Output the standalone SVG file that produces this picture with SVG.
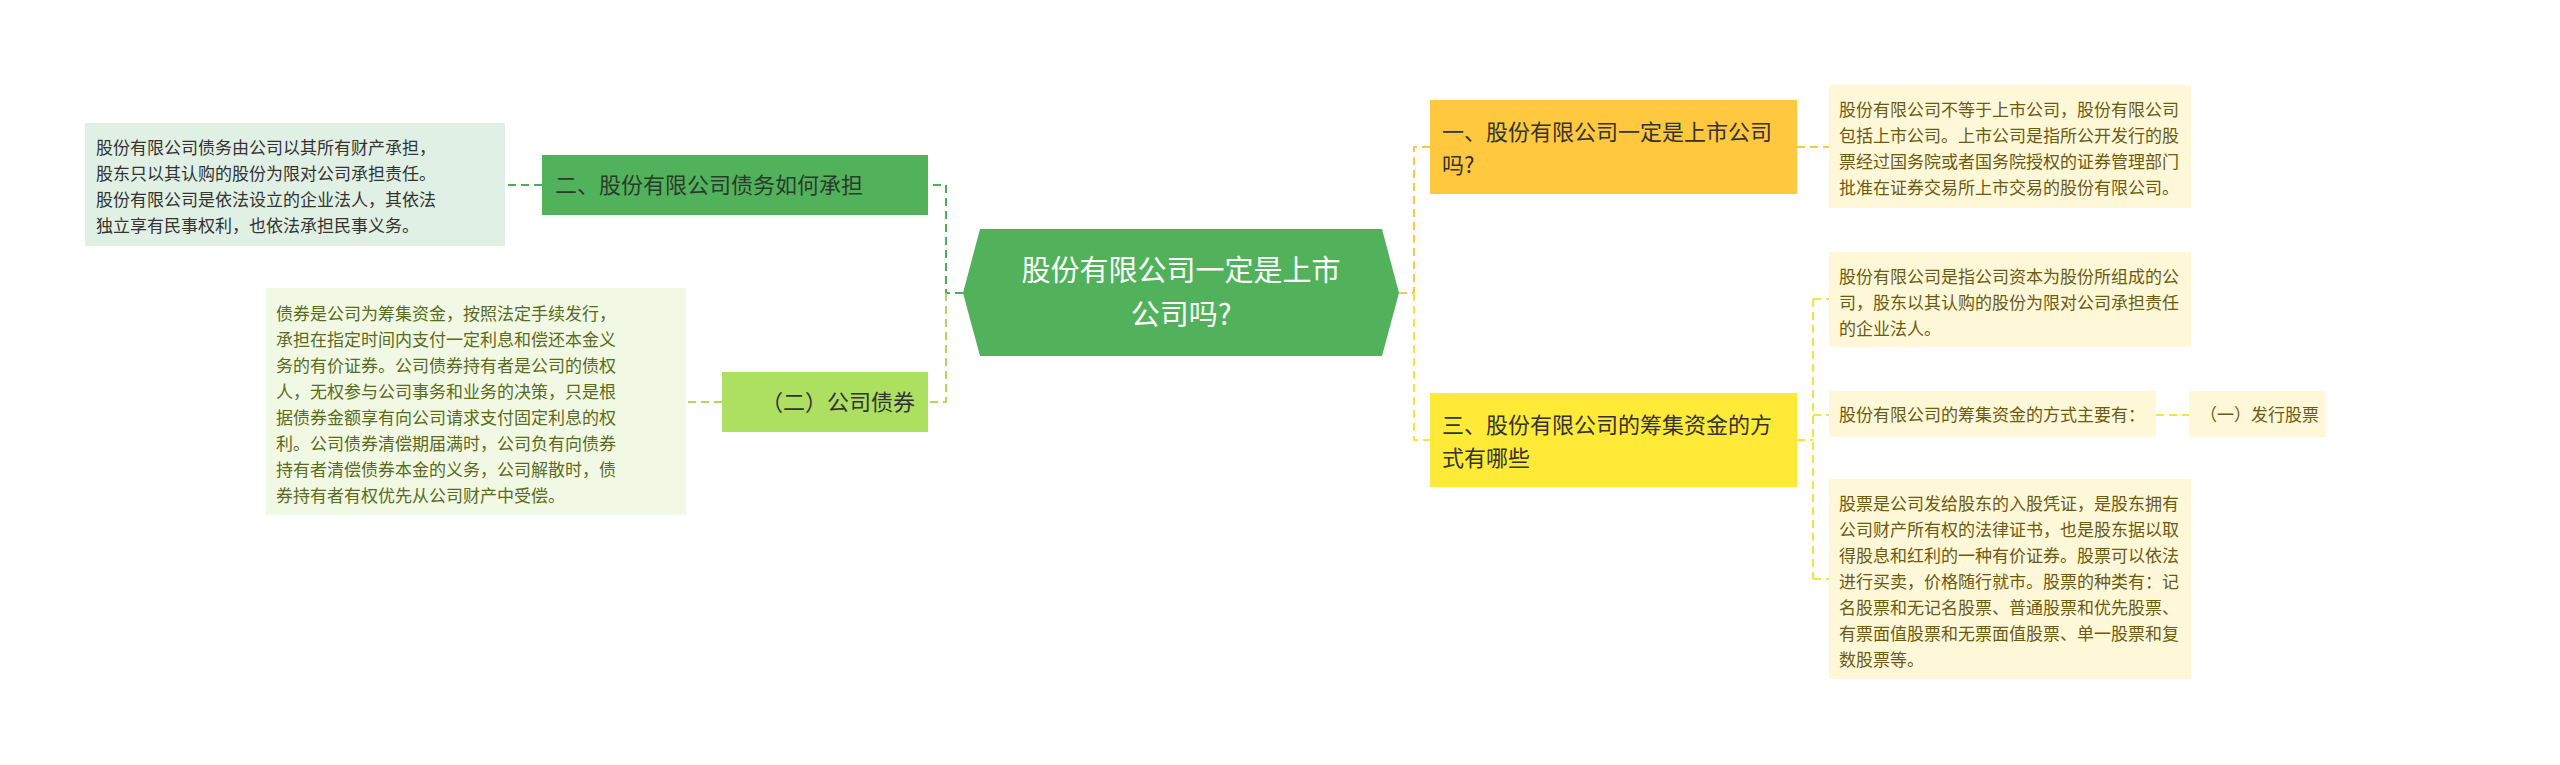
<svg xmlns="http://www.w3.org/2000/svg" width="2560" height="765" viewBox="0 0 2560 765">
<style>
text{font-family:"Noto Sans CJK SC","Liberation Sans",sans-serif}
.leaf{font-size:17px}
.main{font-size:22px}
.c{fill:none;stroke-width:2;stroke-dasharray:8 5}
</style>
<rect width="2560" height="765" fill="#fff"/>
<g id="connectors">
<path class="c" stroke="#4fae5a" d="M963 293H946V185H928M542 185H505"/>
<path class="c" stroke="#a8dc5c" d="M946 293V402H928M722 402H686"/>
<path class="c" stroke="#f7c94a" d="M1399 293H1414V147H1430M1797 147H1829"/>
<path class="c" stroke="#f5e440" d="M1414 293V440H1430M1797 440H1813M1813 299V579M1813 299H1829M1813 415H1829M1813 579H1829M2156 415H2189"/>
</g>
<g id="center">
<polygon points="963,293 980,229 1382,229 1399,293 1382,356 980,356" fill="#52b25c"/>
<text x="1181" y="281" font-size="29" fill="#fff" text-anchor="middle">股份有限公司一定是上市</text>
<text x="1181" y="325" font-size="29" fill="#fff" text-anchor="middle">公司吗?</text>
</g>
<g id="n2">
<rect x="542" y="155" width="386" height="60" fill="#52b25c"/>
<text class="main" x="555" y="193" fill="#2b3b2b">二、股份有限公司债务如何承担</text>
</g>
<g id="l1">
<rect x="85" y="123" width="420" height="123" fill="#e1f0e4"/>
<text class="leaf" fill="#333"><tspan x="96" y="154">股份有限公司债务由公司以其所有财产承担，</tspan><tspan x="96" y="180">股东只以其认购的股份为限对公司承担责任。</tspan><tspan x="96" y="206">股份有限公司是依法设立的企业法人，其依法</tspan><tspan x="96" y="232">独立享有民事权利，也依法承担民事义务。</tspan></text>
</g>
<g id="n22">
<rect x="722" y="372" width="206" height="60" fill="#addf61"/>
<text class="main" x="915" y="410" fill="#333" text-anchor="end">（二）公司债券</text>
</g>
<g id="l2">
<rect x="266" y="288" width="420" height="227" fill="#f1f9e5"/>
<text class="leaf" fill="#5a6b20"><tspan x="276" y="320">债券是公司为筹集资金，按照法定手续发行，</tspan><tspan x="276" y="346">承担在指定时间内支付一定利息和偿还本金义</tspan><tspan x="276" y="372">务的有价证券。公司债券持有者是公司的债权</tspan><tspan x="276" y="398">人，无权参与公司事务和业务的决策，只是根</tspan><tspan x="276" y="424">据债券金额享有向公司请求支付固定利息的权</tspan><tspan x="276" y="450">利。公司债券清偿期届满时，公司负有向债券</tspan><tspan x="276" y="476">持有者清偿债券本金的义务，公司解散时，债</tspan><tspan x="276" y="502">券持有者有权优先从公司财产中受偿。</tspan></text>
</g>
<g id="n1">
<rect x="1430" y="100" width="367" height="94" fill="#ffc83e"/>
<text class="main" fill="#333"><tspan x="1442" y="140">一、股份有限公司一定是上市公司</tspan><tspan x="1442" y="173">吗?</tspan></text>
</g>
<g id="r1">
<rect x="1829" y="85" width="362" height="123" fill="#fff8d8"/>
<text class="leaf" fill="#6b5a12"><tspan x="1839" y="116">股份有限公司不等于上市公司，股份有限公司</tspan><tspan x="1839" y="142">包括上市公司。上市公司是指所公开发行的股</tspan><tspan x="1839" y="168">票经过国务院或者国务院授权的证券管理部门</tspan><tspan x="1839" y="194">批准在证券交易所上市交易的股份有限公司。</tspan></text>
</g>
<g id="n3">
<rect x="1430" y="393" width="367" height="94" fill="#feea37"/>
<text class="main" fill="#333"><tspan x="1442" y="433">三、股份有限公司的筹集资金的方</tspan><tspan x="1442" y="466">式有哪些</tspan></text>
</g>
<g id="r2">
<rect x="1829" y="252" width="362" height="95" fill="#fff8d8"/>
<text class="leaf" fill="#6b5a12"><tspan x="1839" y="283">股份有限公司是指公司资本为股份所组成的公</tspan><tspan x="1839" y="309">司，股东以其认购的股份为限对公司承担责任</tspan><tspan x="1839" y="335">的企业法人。</tspan></text>
</g>
<g id="r3">
<rect x="1829" y="391" width="327" height="46" fill="#fff8d8"/>
<text class="leaf" x="1839" y="421" fill="#6b5a12">股份有限公司的筹集资金的方式主要有：</text>
</g>
<g id="r4">
<rect x="2189" y="391" width="137" height="46" fill="#fff8d8"/>
<text class="leaf" x="2200" y="421" fill="#6b5a12">（一）发行股票</text>
</g>
<g id="r5">
<rect x="1829" y="479" width="362" height="200" fill="#fff8d8"/>
<text class="leaf" fill="#6b5a12"><tspan x="1839" y="510">股票是公司发给股东的入股凭证，是股东拥有</tspan><tspan x="1839" y="536">公司财产所有权的法律证书，也是股东据以取</tspan><tspan x="1839" y="562">得股息和红利的一种有价证券。股票可以依法</tspan><tspan x="1839" y="588">进行买卖，价格随行就市。股票的种类有：记</tspan><tspan x="1839" y="614">名股票和无记名股票、普通股票和优先股票、</tspan><tspan x="1839" y="640">有票面值股票和无票面值股票、单一股票和复</tspan><tspan x="1839" y="666">数股票等。</tspan></text>
</g>
</svg>
